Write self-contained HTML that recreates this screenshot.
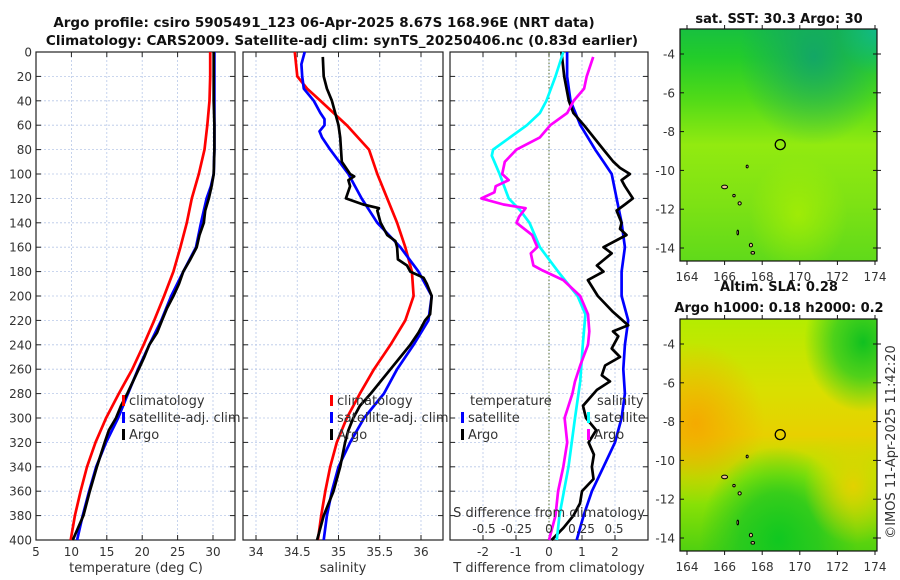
<!DOCTYPE html>
<html><head><meta charset="utf-8">
<style>
html,body{margin:0;padding:0;background:#fff;}
svg{display:block;font-family:"DejaVu Sans","Liberation Sans",sans-serif;}
</style></head>
<body>
<svg id="fig" width="900" height="580" viewBox="0 0 900 580" xmlns="http://www.w3.org/2000/svg">
<defs>
  <linearGradient id="sstBase" x1="0" y1="0" x2="0" y2="1">
    <stop offset="0" stop-color="#18c040"/>
    <stop offset="0.12" stop-color="#22cc2a"/>
    <stop offset="0.3" stop-color="#50da18"/>
    <stop offset="0.5" stop-color="#92ea10"/>
    <stop offset="0.75" stop-color="#7ee214"/>
    <stop offset="1" stop-color="#60da1a"/>
  </linearGradient>
  <radialGradient id="sstTeal" cx="0.68" cy="0.12" rx="0.4" ry="0.3" r="0.38">
    <stop offset="0" stop-color="#10a070" stop-opacity="0.85"/>
    <stop offset="1" stop-color="#10a070" stop-opacity="0"/>
  </radialGradient>
  <radialGradient id="sstTealTR" cx="1" cy="0" r="0.2">
    <stop offset="0" stop-color="#10b890" stop-opacity="0.9"/>
    <stop offset="1" stop-color="#10b890" stop-opacity="0"/>
  </radialGradient>
  <radialGradient id="sstYel" cx="0.6" cy="0.8" r="0.25">
    <stop offset="0" stop-color="#b0f000" stop-opacity="0.7"/>
    <stop offset="1" stop-color="#b0f000" stop-opacity="0"/>
  </radialGradient>
  <linearGradient id="slaBase" x1="0" y1="0" x2="0" y2="1">
    <stop offset="0" stop-color="#b4ec00"/>
    <stop offset="0.3" stop-color="#d8e000"/>
    <stop offset="0.5" stop-color="#e8d000"/>
    <stop offset="0.68" stop-color="#a8ea00"/>
    <stop offset="1" stop-color="#50d010"/>
  </linearGradient>
  <radialGradient id="slaOrange" cx="0.08" cy="0.45" r="0.35">
    <stop offset="0" stop-color="#f5a800" stop-opacity="0.95"/>
    <stop offset="1" stop-color="#f5a800" stop-opacity="0"/>
  </radialGradient>
  <radialGradient id="slaGreenTR" cx="0.93" cy="0.1" r="0.3">
    <stop offset="0" stop-color="#10c020"/>
    <stop offset="0.5" stop-color="#30cc20" stop-opacity="0.8"/>
    <stop offset="1" stop-color="#30cc20" stop-opacity="0"/>
  </radialGradient>
  <radialGradient id="slaGreenB" cx="0.5" cy="0.95" r="0.4">
    <stop offset="0" stop-color="#10c820"/>
    <stop offset="0.5" stop-color="#20c820" stop-opacity="0.8"/>
    <stop offset="1" stop-color="#20c820" stop-opacity="0"/>
  </radialGradient>
  <radialGradient id="slaYelR" cx="0.88" cy="0.72" r="0.25">
    <stop offset="0" stop-color="#e6d000" stop-opacity="0.95"/>
    <stop offset="1" stop-color="#e6d000" stop-opacity="0"/>
  </radialGradient>
</defs>
<g id="root"></g>
</svg>
<script>
// ---------- DATA ----------
const depthTicks = [0,20,40,60,80,100,120,140,160,180,200,220,240,260,280,300,320,340,360,380,400];
const tempTicks = [5,10,15,20,25,30];
const salTicks = [34,34.5,35,35.5,36];
const tdiffTicks = [-2,-1,0,1,2];
const sdiffTicks = [-0.5,-0.25,0,0.25,0.5];
const sdiffLabels = ["-0.5","-0.25","0","0.25","0.5"];
const lonTicks = [164,166,168,170,172,174];
const latTicks = [-4,-6,-8,-10,-12,-14];

const climTDepth = [0,20,40,60,80,100,120,140,160,180,200,220,240,260,280,300,320,340,360,380,400];
const climTVal   = [29.6,29.6,29.5,29.2,28.8,28.0,27.0,26.3,25.4,24.4,23.1,21.7,20.2,18.6,16.7,14.9,13.4,12.2,11.3,10.5,9.9];
const satTDepth  = [0,20,40,60,80,100,110,120,140,160,180,200,220,240,260,280,300,320,340,360,380,400];
const satTVal    = [30.2,30.2,30.2,30.2,30.2,30.1,29.7,29.1,28.3,27.6,25.8,24.1,22.7,21.0,19.4,18.0,16.6,14.9,13.5,12.5,11.6,10.8];
const argoTDepth = [0,20,40,60,80,100,110,120,130,140,150,160,170,180,190,200,210,220,230,240,250,260,270,280,290,300,310,320,340,360,380,400];
const argoTVal   = [30.1,30.1,30.1,30.2,30.2,30.1,29.8,29.4,28.9,28.7,28.1,27.7,26.8,25.8,25.2,24.4,23.5,22.8,22.1,21.0,20.3,19.5,18.7,17.9,17.0,16.3,15.3,14.7,13.6,12.6,11.7,10.2];

const climSDepth = [0,20,30,40,60,80,100,120,140,160,180,200,220,240,260,280,300,320,340,360,380,400];
const climSVal   = [34.47,34.5,34.62,34.78,35.10,35.37,35.47,35.59,35.71,35.81,35.89,35.91,35.81,35.63,35.43,35.26,35.10,34.98,34.90,34.84,34.79,34.75];
const satSDepth  = [0,10,20,30,40,50,55,60,65,70,80,100,120,140,160,180,200,220,240,260,280,300,320,340,360,380,400];
const satSVal    = [34.59,34.55,34.56,34.58,34.70,34.78,34.83,34.83,34.77,34.80,34.90,35.12,35.28,35.47,35.75,35.97,36.13,36.09,35.91,35.71,35.55,35.31,35.14,35.00,34.92,34.86,34.82];
const argoSDepth = [4,20,30,40,50,60,70,80,90,100,102,105,110,120,125,128,130,140,150,155,160,170,175,180,185,190,200,215,220,230,240,250,260,270,280,290,300,310,320,340,360,380,400];
const argoSVal   = [34.81,34.82,34.86,34.92,34.96,35.0,35.02,35.03,35.04,35.14,35.19,35.12,35.14,35.09,35.30,35.49,35.47,35.51,35.59,35.69,35.71,35.72,35.83,35.87,36.03,36.07,36.13,36.11,36.05,35.97,35.87,35.75,35.63,35.51,35.39,35.26,35.18,35.12,35.08,35.02,34.94,34.82,34.74];

const satTdDepth  = [0,20,40,60,80,90,100,120,140,160,180,200,220,240,260,280,300,320,340,360,380,400];
const satTdVal    = [0.55,0.55,0.65,0.95,1.4,1.65,1.9,2.05,2.2,2.3,2.2,2.2,2.4,2.3,2.25,2.3,2.2,2.0,1.65,1.3,1.05,0.84];
const argoTdDepth = [0,20,40,50,60,80,90,95,100,105,110,120,125,130,140,145,150,160,165,175,180,187,200,213,224,229,233,243,250,257,265,270,277,290,300,310,320,330,340,350,360,370,380,390,400];
const argoTdVal   = [0.38,0.46,0.6,0.74,1.06,1.65,1.95,2.15,2.45,2.2,2.3,2.54,2.3,2.05,2.2,2.15,2.35,1.65,1.9,1.45,1.65,1.18,1.48,1.94,2.4,1.94,2.1,1.9,2.15,1.7,1.6,1.85,1.45,1.03,1.12,1.43,1.2,1.36,1.3,1.35,1.0,0.94,0.74,0.44,0.08];
const satSdDepth  = [0,20,40,50,60,80,85,100,120,130,140,160,180,200,215,240,270,300,340,380,400];
const satSdVal    = [0.11,0.05,-0.02,-0.07,-0.17,-0.43,-0.44,-0.38,-0.31,-0.22,-0.15,-0.07,0.07,0.22,0.28,0.26,0.24,0.2,0.15,0.08,0.06];
const argoSdDepth = [4,20,30,40,50,60,70,80,90,100,105,110,115,120,125,128,135,140,150,160,165,175,179,187,200,215,229,240,257,270,280,290,300,320,340,360,380,400];
const argoSdVal   = [0.34,0.29,0.27,0.19,0.14,0.01,-0.07,-0.25,-0.34,-0.36,-0.31,-0.41,-0.42,-0.52,-0.35,-0.18,-0.23,-0.25,-0.13,-0.09,-0.14,-0.12,-0.05,0.11,0.24,0.30,0.31,0.30,0.24,0.20,0.18,0.15,0.12,0.14,0.11,0.07,0.05,0.0];

// ---------- HELPERS ----------
const NS = "http://www.w3.org/2000/svg";
const root = document.getElementById('root');
function mk(tag, attrs, parent, txt){
  const e = document.createElementNS(NS, tag);
  for (const k in attrs) e.setAttribute(k, attrs[k]);
  if (txt !== undefined) e.textContent = txt;
  (parent||root).appendChild(e);
  return e;
}
const Y0 = 52, Y1 = 540;
function yDepth(d){ return Y0 + d*(Y1-Y0)/400; }
function scale(d0,d1,p0,p1){ return v => p0 + (v-d0)*(p1-p0)/(d1-d0); }

const P1 = {x0:36, x1:235};
const P2 = {x0:243, x1:443};
const P3 = {x0:450, x1:648};
const xT  = scale(5,30,36,213);
const xS  = scale(34,36,256,421);
const xTd = scale(0,1,549,582);
const xSd = scale(0,0.5,549,614);

function panelFrame(P, xticks, xfn, name){
  const g = mk('g', {});
  
  
  depthTicks.forEach(d=>{
    const l = mk('line',{x1:P.x0,x2:P.x1,y1:yDepth(d),y2:yDepth(d),stroke:'#b8c8e8','stroke-width':0.8,'stroke-dasharray':'2,2'},g);
    
    
    mk('line',{x1:P.x0,x2:P.x0+5,y1:yDepth(d),y2:yDepth(d),stroke:'#222'},g);
    mk('line',{x1:P.x1-5,x2:P.x1,y1:yDepth(d),y2:yDepth(d),stroke:'#222'},g);
  });
  xticks.forEach(v=>{
    const x = xfn(v);
    const l = mk('line',{x1:x,x2:x,y1:Y0,y2:Y1,stroke:'#b8c8e8','stroke-width':0.8,'stroke-dasharray':'2,2'},g);
    
    
    mk('line',{x1:x,x2:x,y1:Y0,y2:Y0+5,stroke:'#222'},g);
    mk('line',{x1:x,x2:x,y1:Y1-5,y2:Y1,stroke:'#222'},g);
  });
  const r = mk('rect',{x:P.x0,y:Y0,width:P.x1-P.x0,height:Y1-Y0,fill:'none',stroke:'#222','stroke-width':1.2},g);
  
  
  return g;
}
function line(depths, vals, xfn, color, name, w){
  const pts = depths.map((d,i)=> xfn(vals[i]).toFixed(1)+','+yDepth(d).toFixed(1)).join(' ');
  const p = mk('polyline',{points:pts,fill:'none',stroke:color,'stroke-width':w||2.7,'stroke-linejoin':'round'});
  
  
  return p;
}
function txt(x,y,s,opts,name){
  const a = Object.assign({x:x,y:y,'font-size':13,fill:'#333'}, opts||{});
  const t = mk('text',a,null,s);
  
  
  return t;
}

// ---------- TITLES ----------
txt(324,27,"Argo profile: csiro 5905491_123 06-Apr-2025 8.67S 168.96E (NRT data)",{'text-anchor':'middle','font-weight':'bold','fill':'#111','font-size':13.5},'figure-title-line1');
txt(342,45,"Climatology: CARS2009. Satellite-adj clim: synTS_20250406.nc (0.83d earlier)",{'text-anchor':'middle','font-weight':'bold','fill':'#111','font-size':13.5},'figure-title-line2');

// ---------- PANEL 1: temperature ----------
panelFrame(P1, tempTicks, xT, 'temperature-panel');
depthTicks.forEach(d=>{ txt(32,yDepth(d)+4.5,String(d),{'text-anchor':'end','font-size':12},'depth-tick-label'); });
tempTicks.forEach(v=>{ txt(xT(v),556,String(v),{'text-anchor':'middle','font-size':12},'temperature-tick-label'); });
txt(136,572,"temperature (deg C)",{'text-anchor':'middle','font-size':13},'temperature-axis-title');
line(climTDepth, climTVal, xT, '#ff0000', 'temperature-climatology-line');
line(satTDepth, satTVal, xT, '#0000ff', 'temperature-satellite-line');
line(argoTDepth, argoTVal, xT, '#000000', 'temperature-argo-line');
function legendItem(x,y,color,label,name){
  const r = mk('rect',{x:x,y:y-10,width:3,height:11,fill:color});
  
  
  txt(x+7,y,label,{'font-size':13},name);
}
legendItem(122,405,'#ff0000','climatology','legend-climatology');
legendItem(122,422,'#0000ff','satellite-adj. clim','legend-satellite');
legendItem(122,439,'#000000','Argo','legend-argo');

// ---------- PANEL 2: salinity ----------
panelFrame(P2, salTicks, xS, 'salinity-panel');
salTicks.forEach(v=>{ txt(xS(v),556,String(v),{'text-anchor':'middle','font-size':12},'salinity-tick-label'); });
txt(343,572,"salinity",{'text-anchor':'middle','font-size':13},'salinity-axis-title');
line(climSDepth, climSVal, xS, '#ff0000', 'salinity-climatology-line');
line(satSDepth, satSVal, xS, '#0000ff', 'salinity-satellite-line');
line(argoSDepth, argoSVal, xS, '#000000', 'salinity-argo-line');
legendItem(330,405,'#ff0000','climatology','legend-sal-climatology');
legendItem(330,422,'#0000ff','satellite-adj. clim','legend-sal-satellite');
legendItem(330,439,'#000000','Argo','legend-sal-argo');

// ---------- PANEL 3: differences ----------
panelFrame(P3, tdiffTicks, xTd, 'difference-panel');
const zl = mk('line',{x1:xTd(0),x2:xTd(0),y1:Y0,y2:Y1,stroke:'#556b2f','stroke-width':1,'stroke-dasharray':'1.5,2'});


tdiffTicks.forEach(v=>{ txt(xTd(v),556,String(v),{'text-anchor':'middle','font-size':12},'tdiff-tick-label'); });
txt(549,572,"T difference from climatology",{'text-anchor':'middle','font-size':13},'tdiff-axis-title');
line(satTdDepth, satTdVal, xTd, '#0000ff', 'tdiff-satellite-line');
line(argoTdDepth, argoTdVal, xTd, '#000000', 'tdiff-argo-line');
line(satSdDepth, satSdVal, xSd, '#00ffff', 'sdiff-satellite-line');
line(argoSdDepth, argoSdVal, xSd, '#ff00ff', 'sdiff-argo-line');
txt(549,517,"S difference from climatology",{'text-anchor':'middle','font-size':13},'sdiff-axis-title');
sdiffTicks.forEach((v,i)=>{ txt(xSd(v),533,sdiffLabels[i],{'text-anchor':'middle','font-size':12},'sdiff-tick-label'); });
txt(470,405,"temperature",{'font-size':13},'legend-temperature-heading');
legendItem(461,422,'#0000ff','satellite','legend-tdiff-satellite');
legendItem(461,439,'#000000','Argo','legend-tdiff-argo');
txt(597,405,"salinity",{'font-size':13},'legend-salinity-heading');
legendItem(587,422,'#00ffff','satellite','legend-sdiff-satellite');
legendItem(587,439,'#ff00ff','Argo','legend-sdiff-argo');

// ---------- MAPS ----------
const MX0=680, MX1=877;
const mLon = scale(164,174,687,875);
function mapPanel(y0,y1,latA,latB,fills,name,title1,title2){
  const mLat = scale(-4,-14,latA,latB);
  const g = mk('g',{});
  
  
  fills.forEach(f=>{ mk('rect',{x:MX0,y:y0,width:MX1-MX0,height:y1-y0,fill:f},g); });
  [[166,-10.85,3,1.8],[166.8,-11.7,1.6,1.6],[167.4,-13.85,1.6,1.8],[167.5,-14.25,1.8,1.3],[166.5,-11.3,1.2,1.2],[167.2,-9.8,1,1.4],[166.7,-13.2,0.8,2.4]].forEach(a=>{
    mk('ellipse',{cx:mLon(a[0]),cy:mLat(a[1]),rx:a[2],ry:a[3],fill:'#e8c090',stroke:'#000','stroke-width':1},g);
  });
  const c = mk('circle',{cx:mLon(168.96),cy:mLat(-8.67),r:5,fill:'none',stroke:'#000','stroke-width':1.3},g);
  
  
  mk('rect',{x:MX0,y:y0,width:MX1-MX0,height:y1-y0,fill:'none',stroke:'#111','stroke-width':1.2},g);
  latTicks.forEach(v=>{
    const y = mLat(v);
    mk('line',{x1:MX0,x2:MX0+4,y1:y,y2:y,stroke:'#111'},g);
    mk('line',{x1:MX1-4,x2:MX1,y1:y,y2:y,stroke:'#111'},g);
    mk('line',{x1:MX1,x2:MX1+4,y1:y,y2:y,stroke:'#111'},g);
    txt(675,y+4.5,String(v),{'text-anchor':'end','font-size':12},'latitude-tick-label');
  });
  lonTicks.forEach(v=>{
    const x = mLon(v);
    mk('line',{x1:x,x2:x,y1:y0-4,y2:y0,stroke:'#111'},g);
    mk('line',{x1:x,x2:x,y1:y1,y2:y1+4,stroke:'#111'},g);
    txt(x,y1+20,String(v),{'text-anchor':'middle','font-size':12},'longitude-tick-label');
  });
  txt(779, title2 ? y0-28 : y0-6, title1,{'text-anchor':'middle','font-weight':'bold','fill':'#111','font-size':13},name+'-title');
  if (title2) txt(779,y0-7,title2,{'text-anchor':'middle','font-weight':'bold','fill':'#111','font-size':13},name+'-subtitle');
}
mapPanel(29,261,54,248,['url(#sstBase)','url(#sstTeal)','url(#sstTealTR)','url(#sstYel)'],'sst-map','sat. SST: 30.3 Argo: 30');
mapPanel(319,551,344,538,['url(#slaBase)','url(#slaOrange)','url(#slaGreenTR)','url(#slaGreenB)','url(#slaYelR)'],'sla-map','Altim. SLA: 0.28','Argo h1000: 0.18 h2000: 0.2');

txt(0,0,"©IMOS 11-Apr-2025 11:42:20",{'font-size':13,'text-anchor':'middle','transform':'translate(895,442) rotate(-90)'},'copyright-timestamp');
</script>
</body></html>
